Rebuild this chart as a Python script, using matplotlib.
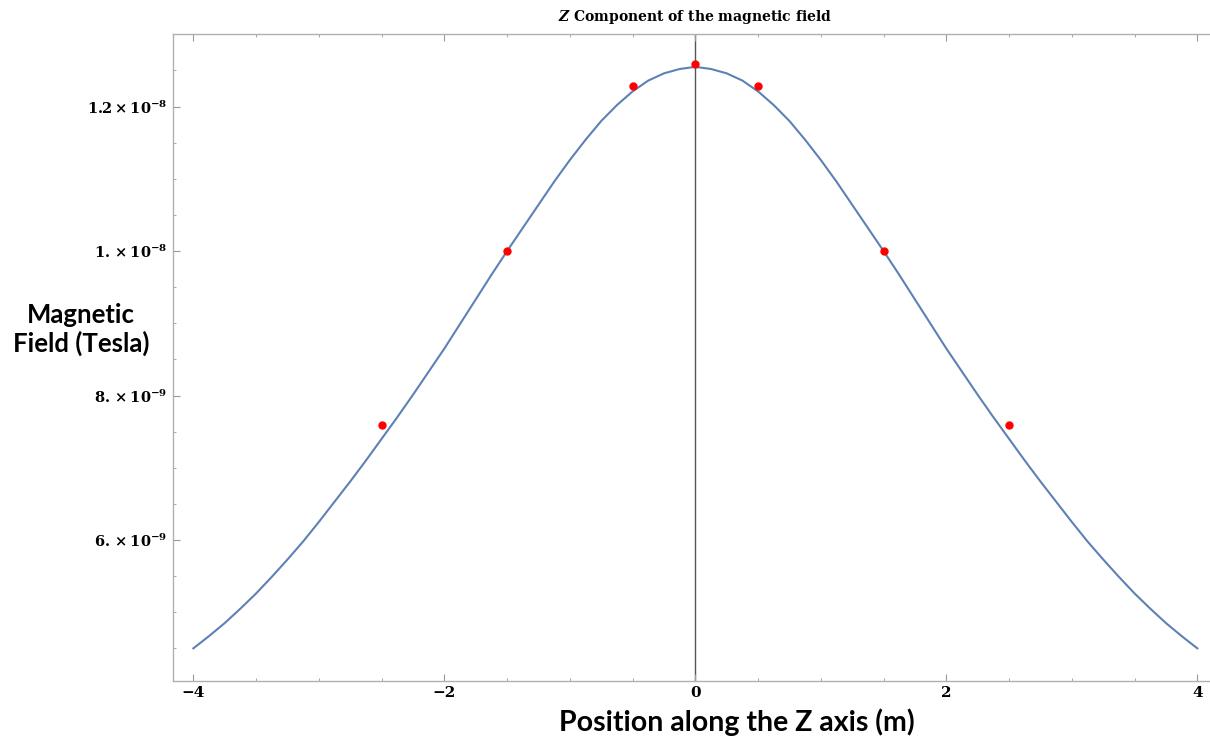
import matplotlib
matplotlib.use("Agg")
import matplotlib.pyplot as plt
import numpy as np

# curve, in units of 1e-9 T
pos = [-4.0, -3.875, -3.75, -3.625, -3.5, -3.375, -3.25, -3.125, -3.0, -2.875,
       -2.75, -2.625, -2.5, -2.375, -2.25, -2.125, -2.0, -1.875, -1.75, -1.625,
       -1.5, -1.375, -1.25, -1.125, -1.0, -0.875, -0.75, -0.625, -0.5, -0.375,
       -0.25, -0.125, 0.0, 0.125, 0.25, 0.375, 0.5, 0.625, 0.75, 0.875,
       1.0, 1.125, 1.25, 1.375, 1.5, 1.625, 1.75, 1.875, 2.0, 2.125,
       2.25, 2.375, 2.5, 2.625, 2.75, 2.875, 3.0, 3.125, 3.25, 3.375,
       3.5, 3.625, 3.75, 3.875, 4.0]
field_nT = [4.50, 4.67, 4.85, 5.05, 5.26, 5.49, 5.73, 5.98, 6.25, 6.53,
            6.81, 7.10, 7.40, 7.70, 8.01, 8.33, 8.65, 8.99, 9.33, 9.67,
            10.00, 10.32, 10.64, 10.96, 11.26, 11.54, 11.80, 12.02, 12.21, 12.36,
            12.46, 12.52, 12.55, 12.52, 12.46, 12.36, 12.21, 12.02, 11.80, 11.54,
            11.26, 10.96, 10.64, 10.32, 10.00, 9.67, 9.33, 8.99, 8.65, 8.33,
            8.01, 7.70, 7.40, 7.10, 6.81, 6.53, 6.25, 5.98, 5.73, 5.49,
            5.26, 5.05, 4.85, 4.67, 4.50]

# measured points (red dots)
meas_pos = [-2.5, -1.5, -0.5, 0.0, 0.5, 1.5, 2.5]
meas_nT = [7.59, 10.0, 12.29, 12.59, 12.29, 10.0, 7.59]

xtick_vals = [-4, -2, 0, 2, 4]
xtick_text = ["\u22124", "\u22122", "0", "2", "4"]
ytick_vals = [6e-9, 8e-9, 1e-8, 1.2e-8]
ytick_text = [r"$\mathbf{6.\times10^{-9}}$", r"$\mathbf{8.\times10^{-9}}$",
              r"$\mathbf{1.\times10^{-8}}$", r"$\mathbf{1.2\times10^{-8}}$"]

plt.rcParams["mathtext.fontset"] = "dejavuserif"

fig = plt.figure(figsize=(12.1, 7.4), dpi=100)
# the frame runs off the right edge of the picture, as in the original
ax = fig.add_axes([0.1432, 0.0804, 0.9069, 0.8732])

field = np.array(field_nT) * 1e-9
meas = np.array(meas_nT) * 1e-9

ax.axvline(0, color="#555555", lw=1.0, zorder=1)
ax.plot(pos, field, color="#5E81B5", lw=1.5, zorder=2)
ax.plot(meas_pos, meas, "o", color="red", ms=5, zorder=3)

ax.set_xlim(-4.16, 4.584)
ax.set_ylim(4.055e-9, 13.0e-9)

ax.set_xticks(xtick_vals)
ax.set_xticklabels(xtick_text, family="DejaVu Serif", fontweight="bold", fontsize=11)
ax.set_xticks(np.arange(-4, 4.01, 0.5), minor=True)
ax.set_yticks(ytick_vals)
ax.set_yticklabels(ytick_text, fontsize=10.5)
ax.set_yticks(np.arange(4.5e-9, 13.01e-9, 0.5e-9), minor=True)

ax.tick_params(which="both", direction="in", top=True, right=False, color="#999999")
ax.tick_params(which="major", length=5, width=0.8, pad=4)
ax.tick_params(which="minor", length=2.5, width=0.6)

for s in ax.spines.values():
    s.set_color("#b0b0b0")
    s.set_linewidth(1.0)
ax.spines["right"].set_visible(False)

fig.text(0.5744, 0.977, r"$\mathbfit{Z}$ Component of the magnetic field",
         ha="center", va="center", family="DejaVu Serif", fontweight="bold", fontsize=10)

fig.text(0.067, 0.555, "Magnetic\nField (Tesla)", ha="center", va="center",
         family="Lato", fontweight="bold", fontsize=18.5, linespacing=1.15)
fig.text(0.609, 0.024, "Position along the Z axis (m)", ha="center", va="center",
         family="Lato", fontweight="bold", fontsize=20.5)

plt.savefig("out.png", dpi=100)
